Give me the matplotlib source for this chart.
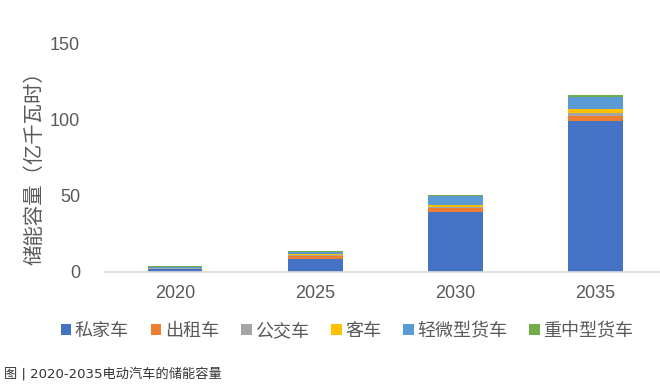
import numpy as np
import matplotlib.pyplot as plt

plt.rcParams['font.family'] = ['Noto Sans CJK SC', 'DejaVu Sans']

years = ['2020', '2025', '2030', '2035']
series_names = ['私家车', '出租车', '公交车', '客车', '轻微型货车', '重中型货车']

# 各类车型储能容量（亿千瓦时）
private_car = [2.0, 8.7, 39.5, 99.0]
taxi = [0.2, 1.8, 2.6, 3.3]
bus = [0.1, 0.7, 0.8, 2.0]
coach = [0.1, 0.6, 1.3, 2.2]
light_truck = [0.8, 1.3, 5.4, 7.9]
heavy_truck = [0.5, 0.9, 1.1, 1.5]

colors = ['#4472C4', '#ED7D31', '#A5A5A5', '#FFC000', '#5B9BD5', '#70AD47']
grey = '#595959'

fig = plt.figure(figsize=(6.6, 3.92), dpi=100)
ax = fig.add_axes([105 / 660, 120 / 392, 555 / 660, 229 / 392])

x = np.arange(len(years))
bottom = np.zeros(len(years))
for name, vals, c in zip(series_names,
                         [private_car, taxi, bus, coach, light_truck, heavy_truck],
                         colors):
    ax.bar(x, vals, width=0.39, bottom=bottom, color=c, label=name)
    bottom += np.array(vals)

ax.set_xlim(-0.5, 3.46)
ax.set_ylim(0, 150)
ax.set_yticks([0, 50, 100, 150])
ax.set_xticks(x)
ax.set_xticklabels(years)
ax.tick_params(axis='both', length=0, labelsize=13, labelcolor=grey)
ax.tick_params(axis='y', pad=18)
ax.tick_params(axis='x', pad=9)
for lab in ax.get_xticklabels() + ax.get_yticklabels():
    lab.set_family(['Liberation Sans', 'Noto Sans CJK SC'])

for s in ['top', 'right', 'left']:
    ax.spines[s].set_visible(False)
ax.spines['bottom'].set_color('#D9D9D9')
ax.spines['bottom'].set_linewidth(1.2)

fig.text(35 / 660, 1 - 163 / 392, '储能容量（亿千瓦时）', rotation=90,
         ha='center', va='center', fontsize=14.7, color=grey)

fig.legend(loc='center', bbox_to_anchor=(347 / 660, 1 - 331 / 392), ncol=6,
           frameon=False, fontsize=13, handlelength=0.6, handleheight=0.6,
           handletextpad=0.2, columnspacing=1.2, labelcolor=grey)

fig.text(4 / 660, 1 - 374 / 392, '图 | 2020-2035电动汽车的储能容量',
         ha='left', va='center', fontsize=9.5, color='#333333',
         family=['DejaVu Sans', 'Noto Sans CJK SC'])

fig.savefig('out.png', dpi=100)
